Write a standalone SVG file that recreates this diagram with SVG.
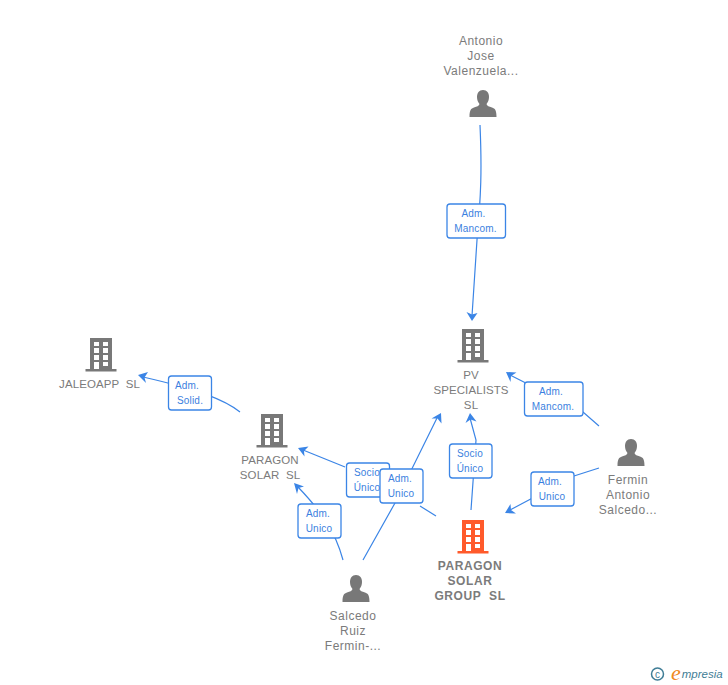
<svg xmlns="http://www.w3.org/2000/svg" width="728" height="685" viewBox="0 0 728 685">
<style>
text{font-family:"Liberation Sans",Arial,sans-serif;white-space:pre}
.n{font-size:12px;fill:#7b7b7b;text-anchor:middle;letter-spacing:.5px}
.k{font-size:11.500px;letter-spacing:.1px}
.b{font-size:12px;font-weight:bold;letter-spacing:.6px}
.l{font-size:10px;fill:#3b7fe0;text-anchor:middle;letter-spacing:.2px}
.c{fill:none;stroke:#3b85e6;stroke-width:1.2}
.a{fill:#3b85e6}
.r{fill:#fff;stroke:#3b85e6;stroke-width:1.3}
.g{fill:#787878}
</style>
<defs>
<g id="bld">
<path fill-rule="evenodd" d="M-11-18H11V13H15.500V15.500H-15.500V13H-11ZM-7-14V-10H-2V-14ZM2-14V-10H7V-14ZM-7-8V-3H-2V-8ZM2-8V-3H7V-8ZM-7-1V4H-2V-1ZM2-1V4H7V-1ZM-7 6V13H-2V6ZM2 6V10H7V6Z"/>
</g>
<g id="per">
<path d="M0-14C4-14 6-11 6-7C6-4 5-2 3.500 0C4 2 6 2.500 9 3.500C12 4.500 13.500 6 13.500 13H-13.500C-13.500 6-12 4.500-9 3.500C-6 2.500-4 2-3.500 0C-5-2-6-4-6-7C-6-11-4-14 0-14Z"/>
</g>
</defs>
<g id="connectors">
<path class="c" d="M480 125C482 170 481 195 477 240L472 316"/>
<path class="a" d="M472 321L466.500 312L472 314.500L477.500 313Z"/>
<path class="c" d="M240 412C225 400 200 390 143 377"/>
<path class="a" d="M138 375L148 372L144.500 377.500L146 383Z"/>
<path class="c" d="M345 467L303 450"/>
<path class="a" d="M298 448L308.500 446.500L304 451L304.500 456.500Z"/>
<path class="c" d="M343 560C335 530 320 510 298 487"/>
<path class="a" d="M294 483L304 486.500L298.500 488L297 494Z"/>
<path class="c" d="M363 560L395 503L437 418"/>
<path class="a" d="M441 413L441.500 423.500L437.500 418.500L431.500 418.500Z"/>
<path class="c" d="M436 516L420 506"/>
<path class="c" d="M471 510L476 440L470 418"/>
<path class="a" d="M470 413L476.500 421.500L470.500 419.500L465.500 423Z"/>
<path class="c" d="M599 426L583 412L510 375"/>
<path class="a" d="M506 372L516.500 372.500L511 376L510.500 382Z"/>
<path class="c" d="M599 468L574 476L510 510"/>
<path class="a" d="M505 513L510.500 504L511 510L516 513.500Z"/>
</g>
<g id="node-antonio">
<text class="n" x="481" y="45">Antonio</text>
<text class="n" x="481" y="60">Jose</text>
<text class="n" x="481" y="75">Valenzuela...</text>
<use href="#per" x="483" y="104" class="g"/>
</g>
<g id="node-pv">
<use href="#bld" x="473" y="347" class="g"/>
<text class="n k" x="471" y="379">PV</text>
<text class="n k" x="471" y="394">SPECIALISTS</text>
<text class="n k" x="471" y="409">SL</text>
</g>
<g id="node-jaleoapp">
<use href="#bld" x="101" y="356" class="g"/>
<text class="n k" x="99.500" y="388">JALEOAPP  SL</text>
</g>
<g id="node-paragon-solar">
<use href="#bld" x="272" y="432" class="g"/>
<text class="n k" x="270" y="464">PARAGON</text>
<text class="n k" x="270" y="479">SOLAR  SL</text>
</g>
<g id="node-group">
<use href="#bld" x="473" y="538" fill="#ff5a2b"/>
<text class="n b" x="470" y="570">PARAGON</text>
<text class="n b" x="470" y="585">SOLAR</text>
<text class="n b" x="470" y="600">GROUP  SL</text>
</g>
<g id="node-fermin">
<use href="#per" x="631" y="453" class="g"/>
<text class="n" x="628" y="484">Fermin</text>
<text class="n" x="628" y="499">Antonio</text>
<text class="n" x="628" y="514">Salcedo...</text>
</g>
<g id="node-salcedo">
<use href="#per" x="356" y="589" class="g"/>
<text class="n" x="353" y="620">Salcedo</text>
<text class="n" x="353" y="635">Ruiz</text>
<text class="n" x="353" y="650">Fermin-...</text>
</g>
<g id="labels">
<rect class="r" x="447" y="204" width="58.500" height="34" rx="3"/><text class="l" x="473.500" y="217">Adm.</text><text class="l" x="475.500" y="232">Mancom.</text>
<rect class="r" x="168.500" y="376" width="43" height="34" rx="3"/><text class="l" x="187" y="389">Adm.</text><text class="l" x="190" y="404">Solid.</text>
<rect class="r" x="346.500" y="463" width="43" height="34" rx="3"/><text class="l" x="367" y="476">Socio</text><text class="l" x="367" y="491">Único</text>
<rect class="r" x="380" y="469" width="43" height="34" rx="3"/><text class="l" x="400" y="482">Adm.</text><text class="l" x="401" y="497">Unico</text>
<rect class="r" x="298" y="504" width="43" height="34" rx="3"/><text class="l" x="318" y="517">Adm.</text><text class="l" x="319" y="532">Unico</text>
<rect class="r" x="449.500" y="444" width="42.500" height="34" rx="3"/><text class="l" x="470" y="457">Socio</text><text class="l" x="470" y="472">Único</text>
<rect class="r" x="524.500" y="382" width="58.500" height="34" rx="3"/><text class="l" x="551" y="395">Adm.</text><text class="l" x="553" y="410">Mancom.</text>
<rect class="r" x="531" y="472" width="43" height="34" rx="3"/><text class="l" x="550" y="485">Adm.</text><text class="l" x="552" y="500">Unico</text>
</g>
<g id="watermark">
<circle cx="657.500" cy="674" r="6" fill="none" stroke="#3f7d96" stroke-width="1.500"/>
<text x="657.500" y="677.500" font-size="10" fill="#3f7d96" text-anchor="middle">c</text>
<text x="671" y="678" font-size="11.500" fill="#3f7d96" font-style="italic"><tspan font-size="22" fill="#f08a1d" dy="2" style="font-family:'Liberation Serif',serif">e</tspan><tspan dy="-2" dx="1">mpresia</tspan></text>
</g>
</svg>
